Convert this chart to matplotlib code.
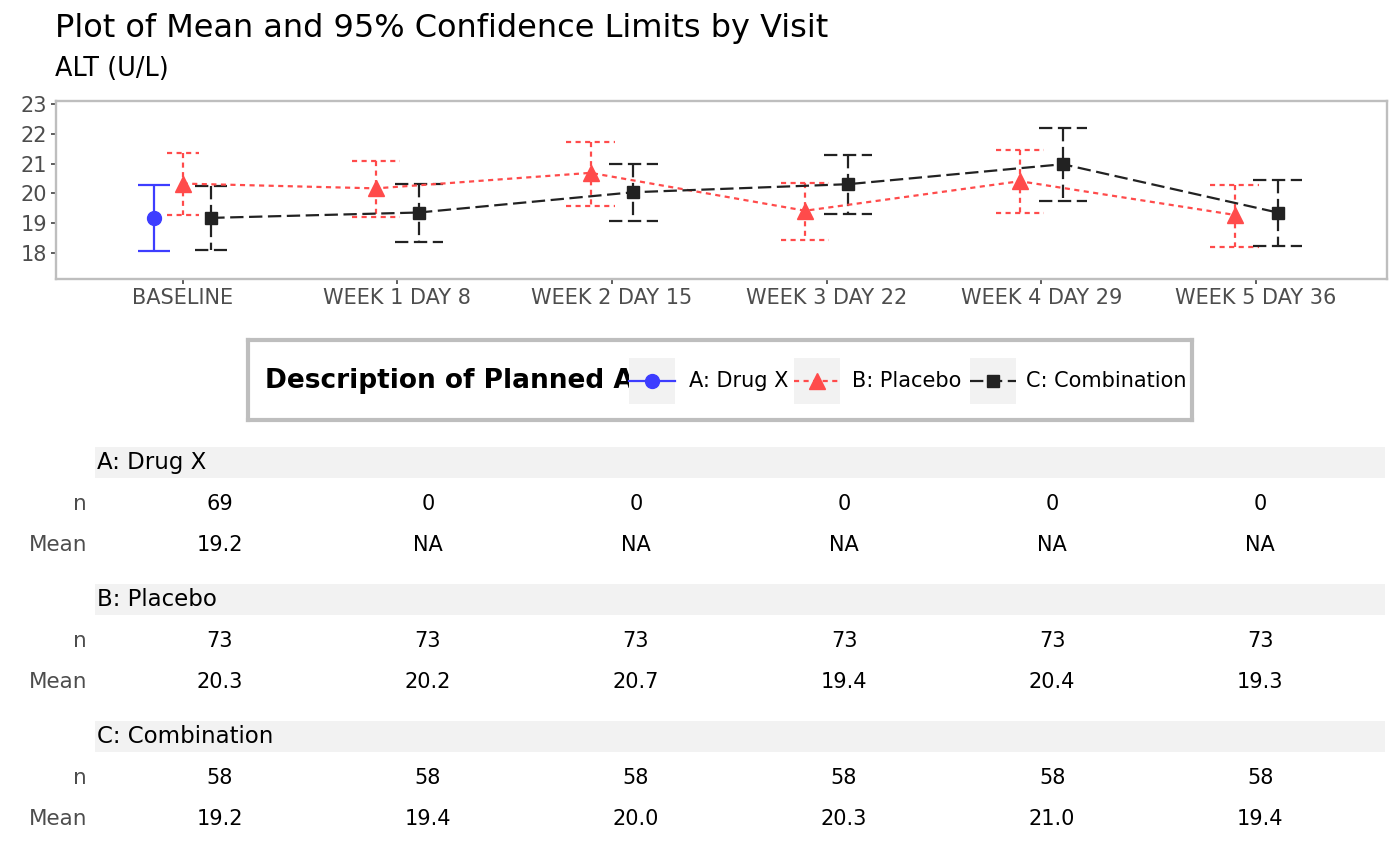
import numpy as np
import matplotlib.pyplot as plt
from matplotlib.collections import LineCollection
from matplotlib.patches import Rectangle
from matplotlib.lines import Line2D

# ---------------------------------------------------------------- data
visits = ["BASELINE", "WEEK 1 DAY 8", "WEEK 2 DAY 15",
          "WEEK 3 DAY 22", "WEEK 4 DAY 29", "WEEK 5 DAY 36"]
arms = ["A: Drug X", "B: Placebo", "C: Combination"]

nan = np.nan
mean_a = [19.19, nan, nan, nan, nan, nan]
lo_a = [18.08, nan, nan, nan, nan, nan]
hi_a = [20.27, nan, nan, nan, nan, nan]
n_a = [69, 0, 0, 0, 0, 0]

mean_b = [20.33, 20.17, 20.69, 19.42, 20.41, 19.28]
lo_b = [19.28, 19.20, 19.58, 18.43, 19.34, 18.21]
hi_b = [21.36, 21.10, 21.72, 20.35, 21.44, 20.29]
n_b = [73, 73, 73, 73, 73, 73]

mean_c = [19.18, 19.36, 20.04, 20.31, 20.98, 19.36]
lo_c = [18.10, 18.38, 19.08, 19.31, 19.73, 18.25]
hi_c = [20.24, 20.33, 21.00, 21.30, 22.18, 20.46]
n_c = [58, 58, 58, 58, 58, 58]

# ---------------------------------------------------------------- styles
colors = ["#3D3DFF", "#FF4B4B", "#222222"]
markers = ["o", "^", "s"]
msizes = [10, 12, 9]
lstyles = ["-", (0, (2.3, 2.0)), (0, (6.0, 2.5))]
lw = 1.6
gray_txt = "#4D4D4D"
border = "#BEBEBE"
strip_bg = "#F2F2F2"

W, H = 1400, 866
DODGE = 0.4
BAR_W = 0.45


def px_box(left, top, right, bottom):
    return [left / W, 1 - bottom / H, (right - left) / W, (bottom - top) / H]


means = [mean_a, mean_b, mean_c]
lows = [lo_a, lo_b, lo_c]
highs = [hi_a, hi_b, hi_c]
counts = [n_a, n_b, n_c]

fig = plt.figure(figsize=(W / 100, H / 100), dpi=100)

# ---------------------------------------------------------------- titles
fig.text(55 / W, 1 - 28 / H, "Plot of Mean and 95% Confidence Limits by Visit",
         fontsize=23, ha="left", va="center")
fig.text(55 / W, 1 - 69 / H, "ALT (U/L)", fontsize=18.4, ha="left", va="center")

# ---------------------------------------------------------------- main plot
ax = fig.add_axes(px_box(56, 101, 1387, 279))

# dodge positions per visit (depends on how many arms are present)
present = np.array([[not np.isnan(m[v]) for v in range(len(visits))] for m in means])
xpos = np.full(present.shape, nan)
for v in range(len(visits)):
    idx = np.where(present[:, v])[0]
    k = len(idx)
    for j, g in enumerate(idx):
        xpos[g, v] = v + (j - (k - 1) / 2) * DODGE / k

for g in range(len(arms)):
    x = xpos[g]
    m = np.array(means[g])
    lo = np.array(lows[g])
    hi = np.array(highs[g])
    ok = ~np.isnan(m)
    k_per_visit = present.sum(axis=0)
    segs = []
    for v in np.where(ok)[0]:
        hw = BAR_W / k_per_visit[v] / 2
        segs.append([(x[v] - hw, hi[v]), (x[v] + hw, hi[v])])
        segs.append([(x[v], hi[v]), (x[v], lo[v])])
        segs.append([(x[v] - hw, lo[v]), (x[v] + hw, lo[v])])
    ax.add_collection(LineCollection(segs, colors=colors[g], linewidths=lw,
                                     linestyles=[lstyles[g]], zorder=2))
    if ok.sum() > 1:
        ax.plot(x[ok], m[ok], color=colors[g], lw=lw, ls=lstyles[g], zorder=3)
    ax.plot(x[ok], m[ok], ls="none", marker=markers[g], ms=msizes[g],
            color=colors[g], zorder=4)

ax.set_xlim(-0.59, len(visits) - 1 + 0.61)
ax.set_ylim(17.13, 23.1)
ax.set_xticks(range(len(visits)))
ax.set_xticklabels(visits)
ax.set_yticks([18, 19, 20, 21, 22, 23])
ax.tick_params(labelsize=15, labelcolor=gray_txt, color="#333333",
               length=3.6, width=1.1, pad=3)
for s in ax.spines.values():
    s.set_color(border)
    s.set_linewidth(1.7)

# ---------------------------------------------------------------- legend
lg = fig.add_axes(px_box(248, 340, 1192, 420))
lg.set_xlim(0, 944)
lg.set_ylim(80, 0)
lg.set_xticks([])
lg.set_yticks([])
for s in lg.spines.values():
    s.set_color(border)
    s.set_linewidth(3)
lg.text(17, 41, "Description of Planned Arm", fontsize=19, fontweight="bold",
        ha="left", va="center", zorder=1)
key_left = [381, 546, 722]
label_left = [441, 604, 778]
for g in range(len(arms)):
    kx = key_left[g]
    lg.add_patch(Rectangle((kx, 18), 46, 46, facecolor=strip_bg,
                           edgecolor="none", zorder=2))
    lg.add_line(Line2D([kx, kx + 46], [41, 41], color=colors[g], lw=lw,
                       ls=lstyles[g], zorder=3))
    lg.add_line(Line2D([kx + 23], [41], color=colors[g], marker=markers[g],
                       ms=msizes[g], ls="none", zorder=4))
    lg.text(label_left[g], 41, arms[g], fontsize=15, ha="left", va="center",
            zorder=5)

# ---------------------------------------------------------------- table
tb = fig.add_axes(px_box(95, 440, 1385, 866))
tb.set_xlim(-0.6, len(visits) - 1 + 0.6)
tb.set_ylim(866, 440)
tb.axis("off")

strip_top = [447, 584, 721]
for g in range(len(arms)):
    t = strip_top[g]
    tb.add_patch(Rectangle((-0.6, t), len(visits) + 0.2, 31, facecolor=strip_bg,
                           edgecolor="none"))
    tb.text(-0.59, t + 15.5, arms[g], fontsize=16.5, ha="left", va="center")
    y_n = t + 57
    y_m = t + 98
    fig.text(87 / W, 1 - y_n / H, "n", fontsize=15.5, color=gray_txt,
             ha="right", va="center")
    fig.text(87 / W, 1 - y_m / H, "Mean", fontsize=15.5, color=gray_txt,
             ha="right", va="center")
    for v in range(len(visits)):
        mv = means[g][v]
        tb.text(v, y_n, str(counts[g][v]), fontsize=15, ha="center", va="center")
        tb.text(v, y_m, "NA" if np.isnan(mv) else f"{mv:.1f}", fontsize=15,
                ha="center", va="center")

fig.savefig("out.png", dpi=100)
